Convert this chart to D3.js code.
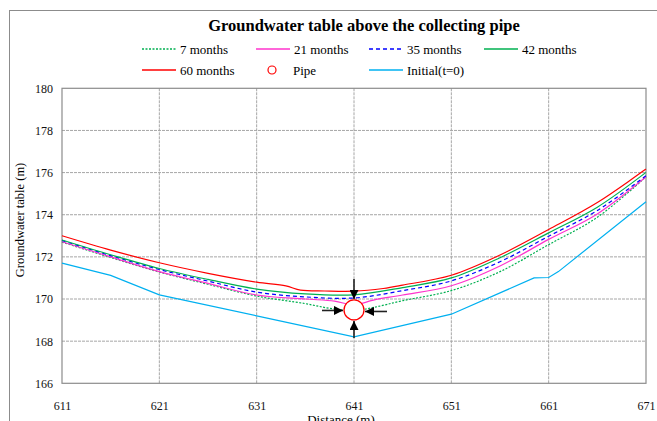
<!DOCTYPE html>
<html><head><meta charset="utf-8">
<script src="https://cdn.jsdelivr.net/npm/d3@7"></script>
<style>body{margin:0;background:#fff}svg{display:block}</style>
</head><body>
<svg id="c" width="657" height="421"></svg>
<script>
// ---- data ----
const xTicks = [611, 621, 631, 641, 651, 661, 671];
const yTicks = [166, 168, 170, 172, 174, 176, 178, 180];

const x7  = [611,616,621,626,631,636,638.5,641,643,646,651,656,661,666,671];
const y7  = [172.70,171.97,171.28,170.70,170.14,169.78,169.56,169.45,169.60,169.92,170.40,171.30,172.58,173.88,175.80];
const x21 = [611,616,621,626,631,636,639,641,643,646,651,656,661,666,671];
const y21 = [172.72,172.00,171.30,170.74,170.19,170.00,169.90,169.72,169.95,170.19,170.63,171.57,172.83,174.04,175.80];
const x35 = [611,616,621,626,631,636,641,646,651,656,661,666,671];
const y35 = [172.78,172.06,171.40,170.85,170.33,170.10,170.05,170.40,170.86,171.77,172.98,174.20,175.85];
const x42 = [611,616,621,626,631,636,641,646,651,656,661,666,671];
const y42 = [172.80,172.10,171.45,170.93,170.47,170.24,170.20,170.54,171.00,171.96,173.14,174.36,176.01];
const x60 = [611,616,621,626,631,634,635.5,638,641,644,646,651,656,661,666,671];
const y60 = [173.00,172.32,171.72,171.22,170.80,170.62,170.42,170.38,170.37,170.50,170.66,171.13,172.09,173.30,174.58,176.17];
const x0  = [611,616,621,631,641,651,659.5,661,662,671];
const y0  = [171.70,171.12,170.20,169.20,168.20,169.28,171.00,171.02,171.30,174.62];
const pipe = {x: 641, y: 169.48};

const smooth = d3.curveCatmullRom.alpha(0.5);
const series = [
  {name:"7 months",  xs:x7,  ys:y7,  color:"#00b050", dash:"2,1.5", w:1.2, curve:smooth},
  {name:"21 months", xs:x21, ys:y21, color:"#ff33cc", dash:null,    w:1.2, curve:smooth},
  {name:"35 months", xs:x35, ys:y35, color:"#0000ff", dash:"4,3",   w:1.2, curve:smooth},
  {name:"42 months", xs:x42, ys:y42, color:"#00b050", dash:null,    w:1.2, curve:smooth},
  {name:"60 months", xs:x60, ys:y60, color:"#ff0000", dash:null,    w:1.2, curve:smooth},
  {name:"Initial(t=0)", xs:x0, ys:y0, color:"#00b0f0", dash:null,   w:1.2, curve:d3.curveLinear}
];

// ---- layout ----
const svg = d3.select("#c");
const L = 62, R = 646, T = 88.3, B = 383.3;
const x = d3.scaleLinear().domain([611, 671]).range([L, R]);
const y = d3.scaleLinear().domain([166, 180]).range([B, T]);
const serif = "'Liberation Serif','Times New Roman',serif";

// outer frame
svg.append("rect").attr("x", 9.5).attr("y", 10.5).attr("width", 800).attr("height", 600)
  .attr("fill", "none").attr("stroke", "#8c8c8c").attr("stroke-width", 1);

// title
svg.append("text").attr("x", 364).attr("y", 31).attr("text-anchor", "middle")
  .attr("font-family", serif).attr("font-weight", "bold").attr("font-size", 16.5)
  .text("Groundwater table above the collecting pipe");

// grid
const g = svg.append("g");
g.selectAll(".vg").data(xTicks.slice(1, -1)).enter().append("line")
  .attr("x1", d => x(d)).attr("x2", d => x(d)).attr("y1", T).attr("y2", B)
  .attr("stroke", "#a6a6a6").attr("stroke-width", 1).attr("stroke-dasharray", "3,1");
g.selectAll(".hg").data(yTicks.slice(1, -1)).enter().append("line")
  .attr("x1", L).attr("x2", R).attr("y1", d => y(d)).attr("y2", d => y(d))
  .attr("stroke", "#a6a6a6").attr("stroke-width", 1).attr("stroke-dasharray", "3,1");
svg.append("rect").attr("x", L).attr("y", T).attr("width", R - L).attr("height", B - T)
  .attr("fill", "none").attr("stroke", "#8c8c8c").attr("stroke-width", 1.2);

// axes
const xAxis = d3.axisBottom(x).tickValues(xTicks).tickSize(0).tickPadding(18).tickFormat(d3.format("d"));
const yAxis = d3.axisLeft(y).tickValues(yTicks).tickSize(0).tickPadding(9).tickFormat(d3.format("d"));
const gx = svg.append("g").attr("transform", `translate(0,${B})`).call(xAxis);
const gy = svg.append("g").attr("transform", `translate(${L},0)`).call(yAxis);
[gx, gy].forEach(a => {
  a.select(".domain").remove();
  a.selectAll("text").attr("font-family", serif).attr("font-size", 12).attr("fill", "#111");
});

// axis labels
svg.append("text").attr("transform", "translate(24,220) rotate(-90)").attr("text-anchor", "middle")
  .attr("font-family", serif).attr("font-size", 12.5).text("Groundwater table (m)");
svg.append("text").attr("x", 341).attr("y", 424).attr("text-anchor", "middle")
  .attr("font-family", serif).attr("font-size", 13).text("Distance (m)");

// series
const plot = svg.append("g");
series.forEach(s => {
  const pts = s.xs.map((v, i) => [v, s.ys[i]]);
  const line = d3.line().x(d => x(d[0])).y(d => y(d[1])).curve(s.curve);
  plot.append("path").datum(pts).attr("d", line).attr("fill", "none")
    .attr("stroke", s.color).attr("stroke-width", s.w)
    .attr("stroke-dasharray", s.dash);
});

// pipe
const px = x(pipe.x), py = y(pipe.y), pr = 10;
plot.append("circle").attr("cx", px).attr("cy", py).attr("r", pr)
  .attr("fill", "#fff").attr("stroke", "#ff0000").attr("stroke-width", 1.3);

// arrows toward pipe
svg.append("defs").append("marker").attr("id", "ah").attr("viewBox", "0 0 10 10")
  .attr("refX", 10).attr("refY", 5).attr("markerWidth", 9).attr("markerHeight", 9)
  .attr("markerUnits", "userSpaceOnUse").attr("orient", "auto")
  .append("path").attr("d", "M0,0 L10,5 L0,10 z").attr("fill", "#000");
const arrows = [
  [px, py - 31, px, py - pr - 1],
  [px, py + 28, px, py + pr + 1],
  [px - 32, py + 0.5, px - pr - 1, py + 0.5],
  [px + 33, py + 1.5, px + pr + 1, py + 1.5]
];
arrows.forEach(a => {
  svg.append("line").attr("x1", a[0]).attr("y1", a[1]).attr("x2", a[2]).attr("y2", a[3])
    .attr("stroke", "#222").attr("stroke-width", 1.6).attr("marker-end", "url(#ah)");
});

// legend
const legendItems = [
  {s: series[0], lx: 142, ly: 49},
  {s: series[1], lx: 256, ly: 49},
  {s: series[2], lx: 369, ly: 49},
  {s: series[3], lx: 484, ly: 49},
  {s: series[4], lx: 142, ly: 70},
  {s: null,      lx: 256, ly: 70, name: "Pipe"},
  {s: series[5], lx: 369, ly: 70}
];
const lg = svg.append("g");
legendItems.forEach(it => {
  if (it.s) {
    lg.append("line").attr("x1", it.lx).attr("x2", it.lx + 34).attr("y1", it.ly).attr("y2", it.ly)
      .attr("stroke", it.s.color).attr("stroke-width", 1.3).attr("stroke-dasharray", it.s.dash);
    lg.append("text").attr("x", it.lx + 38).attr("y", it.ly + 4.5)
      .attr("font-family", serif).attr("font-size", 13).text(it.s.name);
  } else {
    lg.append("circle").attr("cx", it.lx + 16).attr("cy", it.ly).attr("r", 4)
      .attr("fill", "#fff").attr("stroke", "#ff0000").attr("stroke-width", 1.2);
    lg.append("text").attr("x", it.lx + 37).attr("y", it.ly + 4.5)
      .attr("font-family", serif).attr("font-size", 13).text(it.name);
  }
});
</script>
</body></html>
